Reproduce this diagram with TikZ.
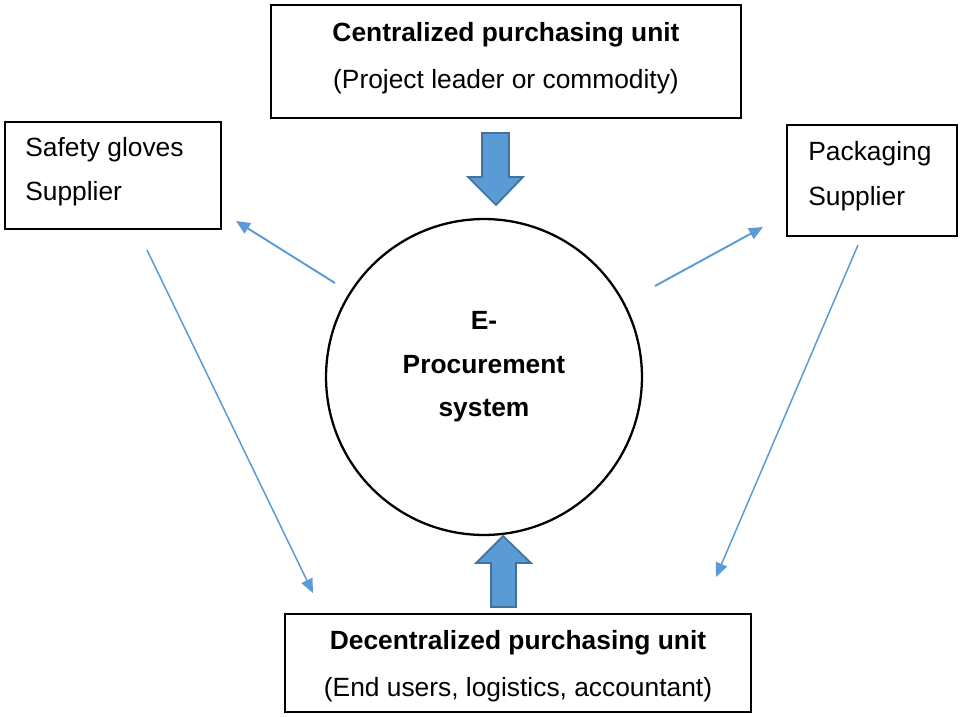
\documentclass[tikz,border=0pt]{standalone}
\usepackage{fontspec}
\setmainfont{Liberation Sans}
\usetikzlibrary{positioning,arrows.meta}
\definecolor{lineblue}{HTML}{5B9BD5}
\definecolor{edgeblue}{HTML}{41719C}
\tikzset{
  box/.style={draw, line width=0.8pt, inner sep=0pt},
  txt/.style={font=\fontsize{15}{26}\selectfont, inner sep=0pt},
  bold/.style={font=\fontsize{15}{26}\selectfont\bfseries, inner sep=0pt},
  link/.style={lineblue, line width=1.1pt, -{Triangle[length=0.28cm,width=0.24cm]}},
  longlink/.style={lineblue, line width=0.85pt, -{Triangle[length=0.28cm,width=0.24cm]}},
  blockarrow/.style={fill=lineblue, draw=edgeblue, line width=1pt, line join=miter}
}

\begin{document}
\begin{tikzpicture}[x=0.02cm, y=-0.02cm]
  \useasboundingbox (0,0) rectangle (964,717);
  % boxes
  \node[box, minimum width=9.4cm, minimum height=2.26cm] (central) at (506,61.5) {};
  \node[box, minimum width=4.32cm, minimum height=2.14cm] (gloves) at (113,175.5) {};
  \node[box, minimum width=3.4cm, minimum height=2.22cm] (packaging) at (872,180.5) {};
  \node[box, minimum width=9.32cm, minimum height=1.96cm] (decentral) at (518,663) {};
  \node[draw, circle, line width=1.3pt, minimum size=6.32cm] (eproc) at (484,377) {};
  % texts
  \node[bold] (centralA) at (506,35) {Centralized purchasing unit};
  \node[txt] (centralB) at (506,82) {(Project leader or commodity)};
  \node[txt, anchor=west] (glovesA) at (25,150) {Safety gloves};
  \node[txt, anchor=west] (glovesB) at (25,194) {Supplier};
  \node[txt, anchor=west] (packA) at (808,154) {Packaging};
  \node[txt, anchor=west] (packB) at (808,199) {Supplier};
  \node[bold] (decentralA) at (518,643) {Decentralized purchasing unit};
  \node[txt] (decentralB) at (518,690) {(End users, logistics, accountant)};
  \node[bold] (eprocA) at (484,320) {E-};
  \node[bold] (eprocB) at (484,365) {Procurement};
  \node[bold] (eprocC) at (484,411) {system};
  % block arrows
  \draw[blockarrow] (482,133) -- (509,133) -- (509,177) -- (523,177) -- (496,205) -- (468,177) -- (482,177) -- cycle;
  \draw[blockarrow] (491,607) -- (516,607) -- (516,563) -- (531,563) -- (503,536) -- (476,563) -- (491,563) -- cycle;
  % thin arrows
  \coordinate (gl1) at (335,283);  \coordinate (gl2) at (236,221);
  \coordinate (pk1) at (655,286);  \coordinate (pk2) at (763,227);
  \coordinate (gd1) at (147,250);  \coordinate (gd2) at (313,593);
  \coordinate (pd1) at (858,245);  \coordinate (pd2) at (716,577);
  \draw[link] (gl1) -- (gl2);
  \draw[link] (pk1) -- (pk2);
  \draw[longlink] (gd1) -- (gd2);
  \draw[longlink] (pd1) -- (pd2);
\end{tikzpicture}
\end{document}
